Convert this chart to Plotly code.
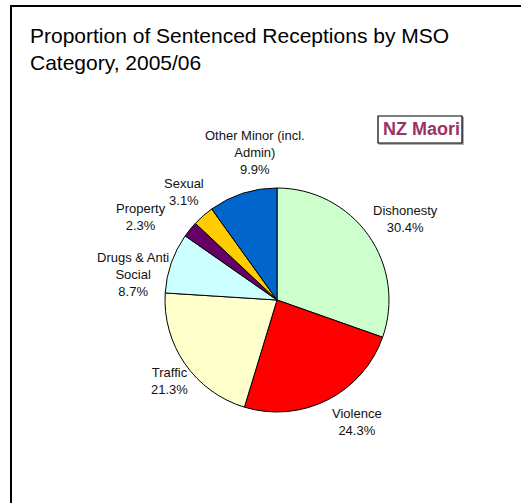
import math
import plotly.graph_objects as go

# Sentenced receptions by most serious offence (MSO) category, NZ Maori, 2005/06
categories = ["Dishonesty", "Violence", "Traffic", "Drugs & Anti<br>Social",
              "Property", "Sexual", "Other Minor (incl.<br>Admin)"]
shares = [30.4, 24.3, 21.3, 8.7, 2.3, 3.1, 9.9]
colors = ["#CCFFCC", "#FF0000", "#FFFFCC", "#CCFFFF", "#660066", "#FFCC00", "#0066CC"]

W, H = 521, 503
FONT = "Arial, Liberation Sans, sans-serif"

# pie geometry in pixels
cx, cy, R = 277, 300, 112
label_dist = 145
# per-label pixel nudges (x right, y down) to keep labels clear of each other
nudges = [(10, 3), (15, -7), (12, -2), (-7, 22), (-23, 8), (3, 1), (22, -9)]


def px(x):
    return x / W


def py(y):
    return 1 - y / H


fig = go.Figure()
fig.add_trace(go.Pie(
    labels=categories,
    values=shares,
    sort=False,
    direction="clockwise",
    rotation=0,
    marker=dict(colors=colors, line=dict(color="black", width=1)),
    textinfo="none",
    hoverinfo="skip",
    showlegend=False,
    domain=dict(x=[px(cx - R), px(cx + R)], y=[py(cy + R), py(cy - R)]),
))

# data labels placed around the pie at each slice's mid-angle
total = sum(shares)
cum = 0.0
annotations = []
for lab, val, (nx, ny) in zip(categories, shares, nudges):
    mid = (cum + val / 2) / total * 2 * math.pi
    cum += val
    lx = cx + label_dist * math.sin(mid) + nx
    ly = cy - label_dist * math.cos(mid) + ny
    annotations.append(dict(
        x=px(lx), y=py(ly), xref="paper", yref="paper",
        xanchor="center", yanchor="middle", showarrow=False, align="center",
        text=f"{lab}<br>{val / total * 100:.1f}%",
        font=dict(family=FONT, size=13, color="#111111"),
    ))

# chart title
annotations.append(dict(
    x=px(28), y=py(22), xref="paper", yref="paper",
    xanchor="left", yanchor="top", showarrow=False, align="left",
    text="Proportion of Sentenced Receptions by MSO<br>Category, 2005/06",
    font=dict(family=FONT, size=21, color="#000000"),
))

# group tag
annotations.append(dict(
    x=px(421), y=py(129), xref="paper", yref="paper",
    xanchor="center", yanchor="middle", showarrow=False,
    text="<b>NZ Maori</b>",
    font=dict(family=FONT, size=18, color="#993366"),
))

shapes = [
    # outer chart frame (runs off the right and bottom edges)
    dict(type="rect", xref="paper", yref="paper",
         x0=px(11), x1=1.05, y0=-0.05, y1=py(6),
         line=dict(color="black", width=2), fillcolor="rgba(0,0,0,0)"),
    # tag box shadow and box
    dict(type="rect", xref="paper", yref="paper",
         x0=px(379), x1=px(463.5), y0=py(144.5), y1=py(117),
         line=dict(color="#B0B0B0", width=1), fillcolor="#B0B0B0", layer="below"),
    dict(type="rect", xref="paper", yref="paper",
         x0=px(378), x1=px(462), y0=py(143), y1=py(116),
         line=dict(color="black", width=1.2), fillcolor="white", layer="below"),
]

fig.update_layout(
    width=W, height=H,
    margin=dict(l=0, r=0, t=0, b=0),
    paper_bgcolor="white", plot_bgcolor="white",
    annotations=annotations,
    shapes=shapes,
)

fig.write_html("out.html", config={"displayModeBar": False})
